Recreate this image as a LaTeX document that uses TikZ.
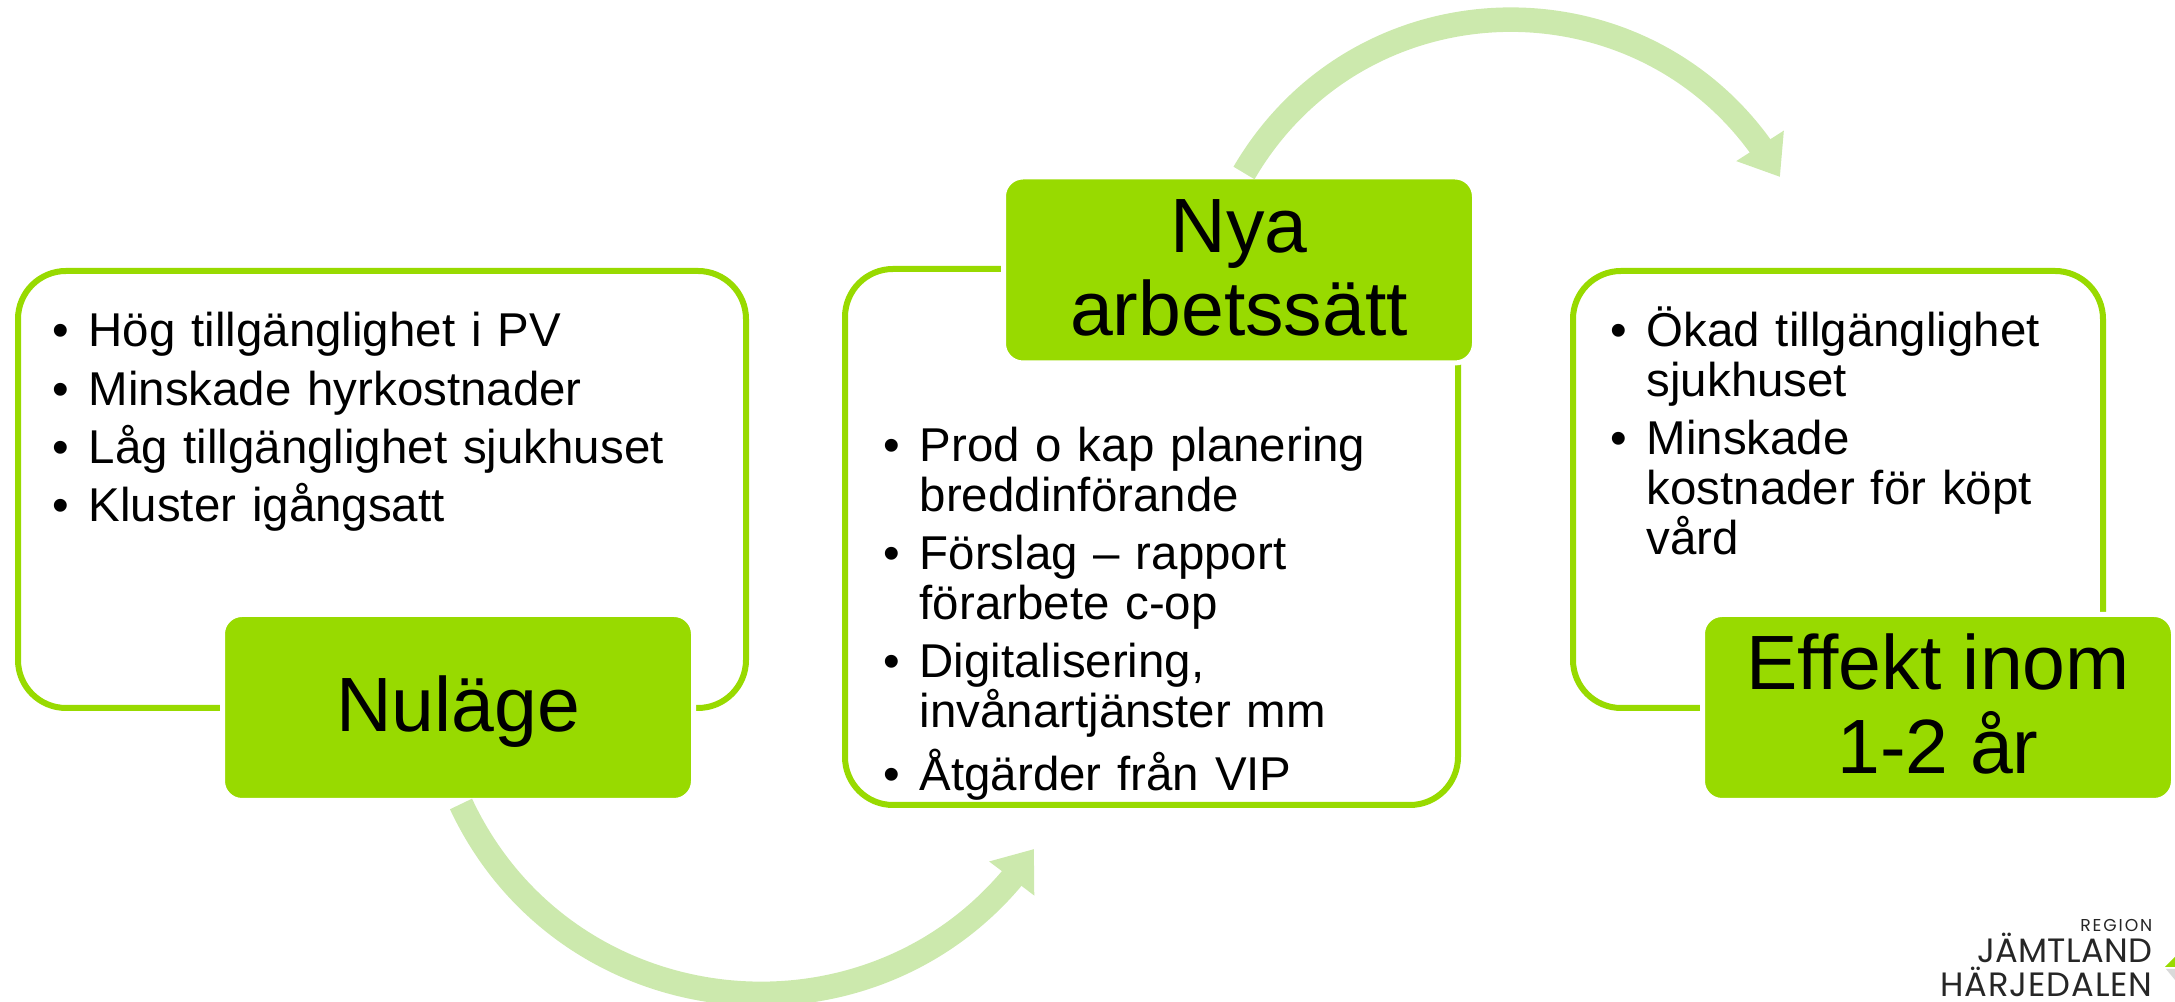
\documentclass[tikz,border=0pt]{standalone}
\usepackage{fontspec}
\setmainfont{Liberation Sans}
\newfontfamily\logofont{Poppins}
\usetikzlibrary{arrows.meta,bending,shapes,positioning}
\definecolor{rjhgreen}{RGB}{152,218,0}
\definecolor{rjhlight}{RGB}{204,233,173}
\definecolor{rjhdark}{RGB}{38,38,38}
\newcommand{\headstrut}{\rule[-.16cm]{0pt}{.80cm}}
\newcommand{\listitem}[1]{\hangindent=.36cm\hangafter=1\noindent\makebox[.36cm][l]{\textbullet}#1\par}
\tikzstyle{outline} = [rectangle, rounded corners=.48cm, draw=rjhgreen, line width=.06cm, fill=white]
\tikzstyle{header} = [rectangle, rounded corners=.195cm, minimum width=4.71cm, minimum height=1.86cm, inner sep=0pt, text centered, align=center, fill=rjhgreen, draw=white, line width=.05cm, font=\fontsize{21.9}{22.76}\selectfont]
\tikzstyle{itemlist} = [anchor=base west, inner sep=0pt, text width=6.6cm, align=left, font=\fontsize{13.5}{14.23}\selectfont\setlength{\parskip}{2.28pt}]
\tikzstyle{flowarrow} = [line width=.245cm, color=rjhlight, -{Triangle[length=.37cm,width=.54cm,flex]}]
\tikzstyle{logotext} = [anchor=base east, inner sep=0pt, text=rjhdark]

\begin{document}
\begin{tikzpicture}
\useasboundingbox (0,0) rectangle (21.75,10.02);

% Outlines
\node[outline, minimum width=7.28cm, minimum height=4.37cm] (nulagebox) at (3.82,5.125) {};
\node[outline, minimum width=6.13cm, minimum height=5.36cm] (nyabox) at (11.515,4.65) {};
\node[outline, minimum width=5.30cm, minimum height=4.37cm] (effektbox) at (18.38,5.125) {};

% Headers
\node[header] (nulage) at (4.58,2.945) {\headstrut Nuläge};
\node[header] (nya) at (12.39,7.32) {\headstrut Nya\\\headstrut arbetssätt};
\node[header] (effekt) at (19.38,2.945) {\headstrut Effekt inom\\\headstrut 1-2 år};

% Lists
\node[itemlist] (nulagelist) at (.52,6.55) {%
\listitem{Hög tillgänglighet i PV}
\listitem{Minskade hyrkostnader}
\listitem{Låg tillgänglighet sjukhuset}
\listitem{Kluster igångsatt}};
\node[itemlist] (nyalist) at (8.83,5.405) {%
\listitem{Prod o kap planering\newline breddinförande}
\listitem{Förslag – rapport\newline förarbete c-op}
\listitem{Digitalisering,\newline invånartjänster mm}
\listitem{Åtgärder från VIP}};
\node[itemlist] (effektlist) at (16.10,6.555) {%
\listitem{Ökad tillgänglighet\newline sjukhuset}
\listitem{Minskade\newline kostnader för köpt\newline vård}};

% Arrows
\coordinate (nulageout) at (4.61,1.98);
\coordinate (nyain) at (10.34,1.53);
\coordinate (nyaout) at (12.44,8.29);
\coordinate (effektin) at (17.80,8.25);
\draw[flowarrow] (nulageout) to[out=-64.9,in=236,looseness=1.14] (nyain);
\draw[flowarrow] (nyaout) to[out=59.7,in=119.4,looseness=1.138] (effektin);

% Logo
\node[logotext, font=\logofont\fontsize{4.9}{5}\selectfont] (logoregion) at (21.53,.70) {\addfontfeature{LetterSpace=11}REGION};
\node[logotext, font=\logofont\fontsize{9.6}{10}\selectfont] (logojamt) at (21.53,.39) {\addfontfeature{LetterSpace=1}JÄMTLAND};
\node[logotext, font=\logofont\fontsize{9.6}{10}\selectfont] (logoharje) at (21.53,.05) {\addfontfeature{LetterSpace=2.5}HÄRJEDALEN};
\fill[rjhgreen] (21.75,.45) -- (21.65,.35) -- (21.75,.35) -- cycle;
\fill[black!15] (21.66,.33) -- (21.75,.33) -- (21.75,.22) -- cycle;
\end{tikzpicture}
\end{document}
